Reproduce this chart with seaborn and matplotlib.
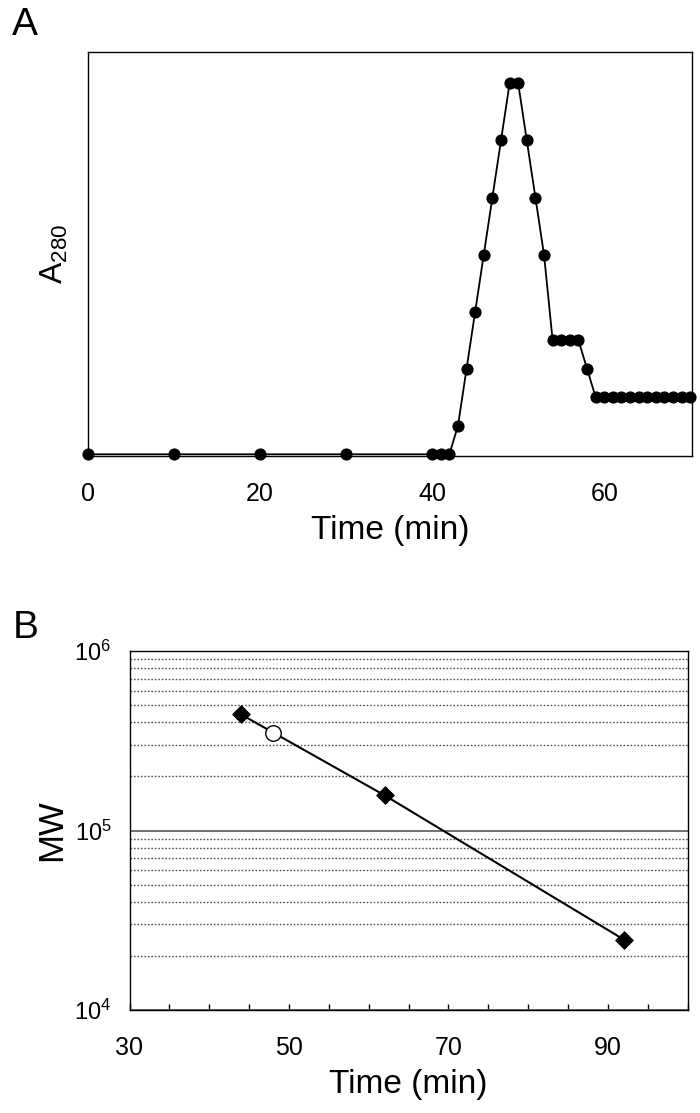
import matplotlib
matplotlib.use('Agg')
import numpy as np
import pandas as pd
import matplotlib.pyplot as plt
import seaborn as sns
from matplotlib.ticker import LogLocator, MultipleLocator, NullFormatter, FixedLocator

sns.set_style('white')
plt.rcParams['font.family'] = ['Liberation Sans', 'DejaVu Sans']
plt.rcParams['mathtext.default'] = 'regular'
plt.rcParams['text.color'] = 'black'
plt.rcParams['axes.labelcolor'] = 'black'
plt.rcParams['xtick.color'] = 'black'
plt.rcParams['ytick.color'] = 'black'

# panel A: elution profile
time_a = [0, 10, 20, 30, 40, 41, 42, 43, 44, 45, 46, 47, 48, 49, 50, 51, 52, 53,
          54, 55, 56, 57, 58, 59, 60, 61, 62, 63, 64, 65, 66, 67, 68, 69, 70]
a280 = [0, 0, 0, 0, 0, 0, 0, 0.5, 1.5, 2.5, 3.5, 4.5, 5.5, 6.5, 6.5, 5.5, 4.5, 3.5,
        2, 2, 2, 2, 1.5, 1, 1, 1, 1, 1, 1, 1, 1, 1, 1, 1, 1]
ticks_a = [0, 20, 40, 60]

# panel B: calibration
std_time = [44, 62, 92]
std_mw = [4.43e5, 1.57e5, 2.47e4]
sample_time = [48]
sample_mw = [3.5e5]
ticks_b = [30, 50, 70, 90]

fig = plt.figure(figsize=(7, 11.13), dpi=100)

# ---- A ----
axA = fig.add_axes([88/700, 1-456/1113, 604/700, 404/1113])
sns.lineplot(x=time_a, y=a280, ax=axA, color='black', marker='o', markersize=8,
             markeredgecolor='black', linewidth=1.3, clip_on=False, zorder=3)
axA.set_xlim(0, 70.2)
axA.set_ylim(-0.03, 7.05)
axA.set_xticks(ticks_a)
axA.set_yticks([])
axA.tick_params(axis='x', length=0, pad=19, labelsize=18)
for s in axA.spines.values():
    s.set_color('black')
    s.set_linewidth(1)
axA.set_xlabel('Time (min)', fontsize=24, labelpad=6)
axA.set_ylabel('A$_{280}$', fontsize=23)
axA.yaxis.set_label_coords(-0.03, 0.5)

# ---- B ----
axB = fig.add_axes([129.5/700, 1-1010/1113, 558/700, 359/1113])
axB.set_yscale('log')
axB.set_xlim(30, 100)
axB.set_ylim(1e4, 1e6)
axB.set_axisbelow(True)
axB.yaxis.set_minor_locator(LogLocator(base=10, subs=range(2, 10)))
axB.yaxis.set_minor_formatter(NullFormatter())
axB.yaxis.set_major_locator(FixedLocator([1e4, 1e5, 1e6]))
axB.yaxis.grid(True, which='minor', linestyle=(0, (1.2, 1.3)), color='#555555', linewidth=1)
axB.yaxis.grid(True, which='major', linestyle='-', color='#666666', linewidth=1.3)
axB.xaxis.grid(False)

sns.lineplot(x=std_time, y=std_mw, ax=axB, color='black', linewidth=1.5, zorder=3)
sns.scatterplot(x=std_time, y=std_mw, ax=axB, marker='D', s=80, color='black',
                edgecolor='black', zorder=4)
sns.scatterplot(x=sample_time, y=sample_mw, ax=axB, marker='o', s=125, color='white',
                edgecolor='black', linewidth=1, zorder=5)

axB.set_xticks(ticks_b)
axB.xaxis.set_minor_locator(MultipleLocator(5))
axB.tick_params(axis='x', which='both', direction='in', length=4, width=1,
                bottom=True, pad=19, labelsize=18)
axB.tick_params(axis='y', which='both', length=0, pad=13, labelsize=17)
for s in axB.spines.values():
    s.set_color('black')
    s.set_linewidth(1)
axB.set_xlabel('Time (min)', fontsize=24, labelpad=6)
axB.set_ylabel('MW', fontsize=25)
axB.yaxis.set_label_coords(-0.11, 0.5)

fig.text(12/700, 1-35/1113, 'A', fontsize=28, va='baseline')
fig.text(13/700, 1-638/1113, 'B', fontsize=28, va='baseline')

fig.savefig('out.png', dpi=100, facecolor='white')
